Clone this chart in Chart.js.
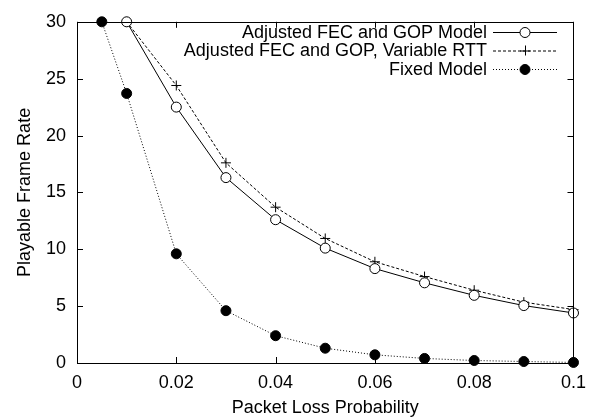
<!DOCTYPE html>
<html>
<head>
<meta charset="utf-8">
<script src="https://cdn.jsdelivr.net/npm/chart.js@4"></script>
<style>
  html, body { margin: 0; padding: 0; background: #fff; }
  #wrap { width: 595px; height: 419px; }
</style>
</head>
<body>
<div id="wrap"><canvas id="chart" width="595" height="419"></canvas></div>
<script>
// Packet loss probability values (x axis)
const lossAdjusted = [0.01, 0.02, 0.03, 0.04, 0.05, 0.06, 0.07, 0.08, 0.09, 0.1];
const lossFixed = [0.005, 0.01, 0.02, 0.03, 0.04, 0.05, 0.06, 0.07, 0.08, 0.09, 0.1];

// Playable frame rate per series
const adjustedModel = [30, 22.5, 16.3, 12.6, 10.1, 8.3, 7.05, 5.95, 5.05, 4.4];
const variableRtt = [30, 24.4, 17.6, 13.7, 10.95, 8.9, 7.6, 6.4, 5.35, 4.7];
const fixedModel = [30, 23.7, 9.6, 4.6, 2.4, 1.3, 0.72, 0.4, 0.22, 0.13, 0.05];

const seriesNames = ['Adjusted FEC and GOP Model', 'Adjusted FEC and GOP, Variable RTT', 'Fixed Model'];
const xTicks = [0, 0.02, 0.04, 0.06, 0.08, 0.1];
const yTicks = [0, 5, 10, 15, 20, 25, 30];

const FONT = '"Liberation Sans", Arial, Helvetica, sans-serif';

const toPoints = (xs, ys) => xs.map((x, i) => ({ x: x, y: ys[i] }));

// gnuplot style frame: border + inward ticks on all sides, and the legend
const framePlugin = {
    id: 'frame',
    afterDatasetsDraw(chart) {
        const ctx = chart.ctx;
        const a = chart.chartArea;
        const xs = chart.scales.x, ys = chart.scales.y;
        const len = 6;
        ctx.save();
        ctx.strokeStyle = '#000';
        ctx.lineWidth = 1;
        ctx.setLineDash([]);
        ctx.beginPath();
        xTicks.forEach(v => {
            const px = Math.round(xs.getPixelForValue(v)) + 0.5;
            ctx.moveTo(px, a.bottom); ctx.lineTo(px, a.bottom - len);
            ctx.moveTo(px, a.top); ctx.lineTo(px, a.top + len);
        });
        yTicks.forEach(v => {
            const py = Math.round(ys.getPixelForValue(v)) + 0.5;
            ctx.moveTo(a.left, py); ctx.lineTo(a.left + len, py);
            ctx.moveTo(a.right, py); ctx.lineTo(a.right - len, py);
        });
        ctx.stroke();
        ctx.strokeRect(Math.round(a.left) + 0.5, Math.round(a.top) + 0.5,
            Math.round(a.right - a.left), Math.round(a.bottom - a.top));

        // legend
        const textRight = 487, lineL = 493, lineR = 557, mid = 525;
        ctx.font = '18px ' + FONT;
        ctx.textAlign = 'right';
        ctx.textBaseline = 'middle';
        chart.data.datasets.forEach((ds, i) => {
            const y = 32 + i * 18.5;
            ctx.fillStyle = '#000';
            ctx.fillText(ds.label, textRight, y + 1);
            ctx.beginPath();
            ctx.setLineDash(ds.borderDash || []);
            ctx.moveTo(lineL, y + 0.5); ctx.lineTo(lineR, y + 0.5);
            ctx.stroke();
            ctx.setLineDash([]);
            ctx.beginPath();
            if (ds.pointStyle === 'cross') {
                const r = ds.pointRadius;
                ctx.moveTo(mid - r, y + 0.5); ctx.lineTo(mid + r, y + 0.5);
                ctx.moveTo(mid + 0.5, y - r); ctx.lineTo(mid + 0.5, y + r);
                ctx.stroke();
            } else {
                ctx.arc(mid, y + 0.5, ds.pointRadius, 0, Math.PI * 2);
                ctx.fillStyle = ds.pointBackgroundColor;
                ctx.fill();
                ctx.stroke();
            }
        });
        ctx.restore();
    }
};

const ctx = document.getElementById('chart').getContext('2d');
new Chart(ctx, {
    type: 'line',
    data: {
        datasets: [{
            label: seriesNames[0],
            data: toPoints(lossAdjusted, adjustedModel),
            borderColor: '#000',
            borderWidth: 1,
            pointStyle: 'circle',
            pointRadius: 5,
            pointBackgroundColor: '#fff',
            pointBorderColor: '#000',
            pointBorderWidth: 1,
            clip: false
        }, {
            label: seriesNames[1],
            data: toPoints(lossAdjusted, variableRtt),
            borderColor: '#000',
            borderWidth: 1,
            borderDash: [3, 2],
            pointStyle: 'cross',
            pointRadius: 5,
            pointBorderColor: '#000',
            pointBorderWidth: 1,
            clip: false
        }, {
            label: seriesNames[2],
            data: toPoints(lossFixed, fixedModel),
            borderColor: '#000',
            borderWidth: 1,
            borderDash: [1, 2],
            pointStyle: 'circle',
            pointRadius: 5,
            pointBackgroundColor: '#000',
            pointBorderColor: '#000',
            pointBorderWidth: 1,
            clip: false
        }]
    },
    options: {
        responsive: false,
        animation: false,
        layout: { padding: { top: 18, right: 17, left: 0, bottom: 0 } },
        plugins: {
            legend: { display: false },
            tooltip: { enabled: false }
        },
        scales: {
            x: {
                type: 'linear',
                min: 0,
                max: 0.1,
                afterFit: s => { s.height = 56; },
                afterBuildTicks: s => { s.ticks = xTicks.map(v => ({ value: v })); },
                grid: { display: false, drawTicks: false },
                border: { display: false },
                ticks: {
                    color: '#000',
                    padding: 9,
                    font: { family: FONT, size: 18 },
                    callback: v => String(parseFloat(v.toFixed(2)))
                },
                title: {
                    display: true,
                    text: 'Packet Loss Probability',
                    color: '#000',
                    font: { family: FONT, size: 18 },
                    padding: { top: 0, bottom: 0 }
                }
            },
            y: {
                type: 'linear',
                min: 0,
                max: 30,
                afterFit: s => { s.width = 77; },
                afterBuildTicks: s => { s.ticks = yTicks.map(v => ({ value: v })); },
                grid: { display: false, drawTicks: false },
                border: { display: false },
                ticks: {
                    color: '#000',
                    padding: 11,
                    font: { family: FONT, size: 18 }
                },
                title: {
                    display: true,
                    text: 'Playable Frame Rate',
                    color: '#000',
                    font: { family: FONT, size: 18 },
                    padding: { top: 14, bottom: 0 }
                }
            }
        }
    },
    plugins: [framePlugin]
});
</script>
</body>
</html>
